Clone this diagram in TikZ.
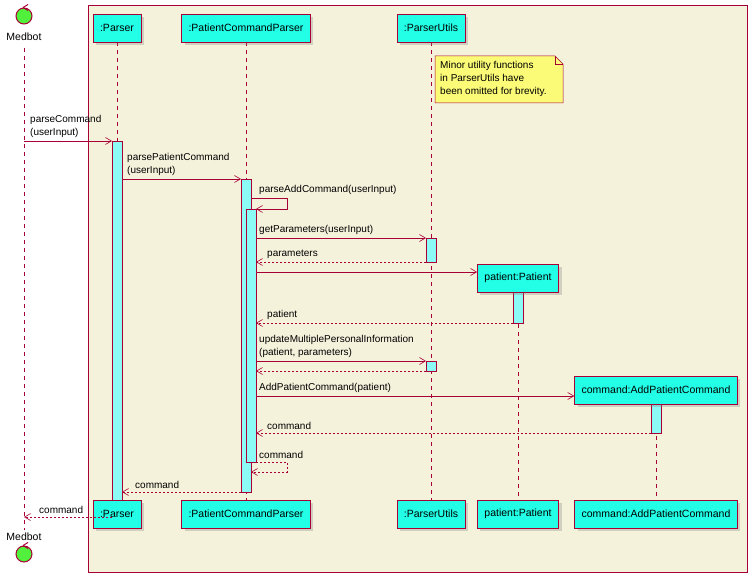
\documentclass[tikz,border=0pt]{standalone}
\usepackage{fontspec}
\setmainfont{Liberation Sans}
\usetikzlibrary{arrows.meta, positioning, shadows, shapes.misc}
\definecolor{cLine}{RGB}{168, 0, 54}
\definecolor{cPart}{RGB}{34, 255, 230}
\definecolor{cAct}{RGB}{140, 250, 245}
\definecolor{cBox}{RGB}{245, 242, 220}
\definecolor{cNote}{RGB}{251, 251, 119}
\definecolor{cActor}{RGB}{80, 240, 60}
\tikzset{
    x=1pt, y=-1pt,
    font=\fontsize{10.5}{12}\selectfont,
    % --- participant boxes ---
    part/.style={
        rectangle, draw=cLine, fill=cPart, line width=0.6pt,
        minimum height=28pt, inner xsep=7pt,
        drop shadow={opacity=0.3, shadow xshift=3pt, shadow yshift=-3pt}
    },
    % --- activation bars ---
    act/.style={draw=cLine, fill=cAct, line width=0.5pt},
    life/.style={draw=cLine, dash pattern=on 4pt off 4pt, line width=0.5pt},
    % --- messages ---
    msg/.style={draw=cLine, line width=0.6pt, -{Straight Barb[length=6pt, width=7pt]}},
    ret/.style={msg, dash pattern=on 2pt off 2pt},
    lbl/.style={align=left, anchor=south west, inner sep=1pt, font=\fontsize{10}{13}\selectfont},
    actor/.style={circle, draw=cLine, fill=cActor, line width=1pt, minimum size=16pt, inner sep=0pt}
}
\begin{document}
\begin{tikzpicture}
	\useasboundingbox (0,0) rectangle (750,577);

	% frame
	\draw[cLine, fill=cBox, line width=0.6pt] (88,5) rectangle (747,572);

	% lifelines
	\draw[life] (24,48) -- (24,530);
	\draw[life] (117,42) -- (117,500);
	\draw[life] (246,42) -- (246,500);
	\draw[life] (431,42) -- (431,500);
	\draw[life] (518,292) -- (518,500);
	\draw[life] (656,404) -- (656,500);

	% actor Medbot
	\node[actor] (mTop) at (24,16) {};
	\node[actor] (mBot) at (24,554) {};
	\foreach \n in {mTop, mBot} {
			\draw[cLine, line width=1pt] ([xshift=-1pt]\n.north) -- ++(5,-3);
			\draw[cLine, line width=1pt] ([xshift=-1pt]\n.north) -- ++(5,3);
		}
	\node (medTop) at (24,37) {Medbot};
	\node (medBot) at (24,537) {Medbot};

	% note
	\draw[cLine, fill=cNote, line width=0.5pt] (435,56) -- (555,56) -- (563,64) -- (563,103) -- (435,103) -- cycle;
	\draw[cLine, line width=0.5pt] (555,56) -- (555,64) -- (563,64);
	\node[align=left, anchor=north west, inner sep=0pt, font=\fontsize{10}{13}\selectfont] (note) at (440,61) {Minor utility functions\\in ParserUtils have\\been omitted for brevity.};

	% activations
	\draw[act] (112,141) rectangle (122,517);
	\draw[act] (241,179) rectangle (251,492);
	\draw[act] (246,209) rectangle (256,462);
	\draw[act] (426,238) rectangle (436,262);
	\draw[act] (513,292) rectangle (523,323);
	\draw[act] (426,361) rectangle (436,371);
	\draw[act] (651,404) rectangle (661,433);

	% participants
	\node[part] (pTop) at (117,28) {:Parser};
	\node[part] (pcpTop) at (246,28) {:PatientCommandParser};
	\node[part] (puTop) at (431,28) {:ParserUtils};
	\node[part] (pBot) at (117,514) {:Parser};
	\node[part] (pcpBot) at (246,514) {:PatientCommandParser};
	\node[part] (puBot) at (431,514) {:ParserUtils};
	\node[part] (patBot) at (518,514) {patient:Patient};
	\node[part] (cmdBot) at (656,514) {command:AddPatientCommand};
	\node[part] (pat) at (518,278) {patient:Patient};
	\node[part] (cmd) at (656,390) {command:AddPatientCommand};

	% anchor points
	\coordinate (a1) at (24,141);  \coordinate (b1) at (112,141);
	\coordinate (a2) at (122,179); \coordinate (b2) at (241,179);
	\coordinate (a3) at (251,198); \coordinate (b3) at (256,209);
	\coordinate (a4) at (256,238); \coordinate (b4) at (426,238);
	\coordinate (a5) at (426,262); \coordinate (b5) at (256,262);
	\coordinate (a6) at (256,272); \coordinate (b6) at (pat.west |- 0,272);
	\coordinate (a7) at (513,323); \coordinate (b7) at (256,323);
	\coordinate (a8) at (256,361); \coordinate (b8) at (426,361);
	\coordinate (a9) at (426,371); \coordinate (b9) at (256,371);
	\coordinate (a10) at (256,396); \coordinate (b10) at (cmd.west |- 0,396);
	\coordinate (a11) at (651,433); \coordinate (b11) at (256,433);
	\coordinate (a12) at (256,462); \coordinate (b12) at (251,472);
	\coordinate (a13) at (241,492); \coordinate (b13) at (122,492);
	\coordinate (a14) at (112,517); \coordinate (b14) at (24,517);

	% messages
	\draw[msg] (a1) -- (b1);
	\draw[msg] (a2) -- (b2);
	\draw[msg] (a3) -- ++(36,0) |- (b3);
	\draw[msg] (a4) -- (b4);
	\draw[ret] (a5) -- (b5);
	\draw[msg] (a6) -- (b6);
	\draw[ret] (a7) -- (b7);
	\draw[msg] (a8) -- (b8);
	\draw[ret] (a9) -- (b9);
	\draw[msg] (a10) -- (b10);
	\draw[ret] (a11) -- (b11);
	\draw[ret] (a12) -- ++(31,0) |- (b12);
	\draw[ret] (a13) -- (b13);
	\draw[ret] (a14) -- (b14);

	% labels
	\node[lbl] (l1) at (29,139) {parseCommand\\(userInput)};
	\node[lbl] (l2) at (126,177) {parsePatientCommand\\(userInput)};
	\node[lbl] (l3) at (258,196) {parseAddCommand(userInput)};
	\node[lbl] (l4) at (258,236) {getParameters(userInput)};
	\node[lbl] (l5) at (266,260) {parameters};
	\node[lbl] (l7) at (266,321) {patient};
	\node[lbl] (l8) at (258,359) {updateMultiplePersonalInformation\\(patient, parameters)};
	\node[lbl] (l10) at (258,394) {AddPatientCommand(patient)};
	\node[lbl] (l11) at (266,431) {command};
	\node[lbl] (l12) at (258,460) {command};
	\node[lbl] (l13) at (134,490) {command};
	\node[lbl] (l14) at (38,515) {command};
\end{tikzpicture}
\end{document}
